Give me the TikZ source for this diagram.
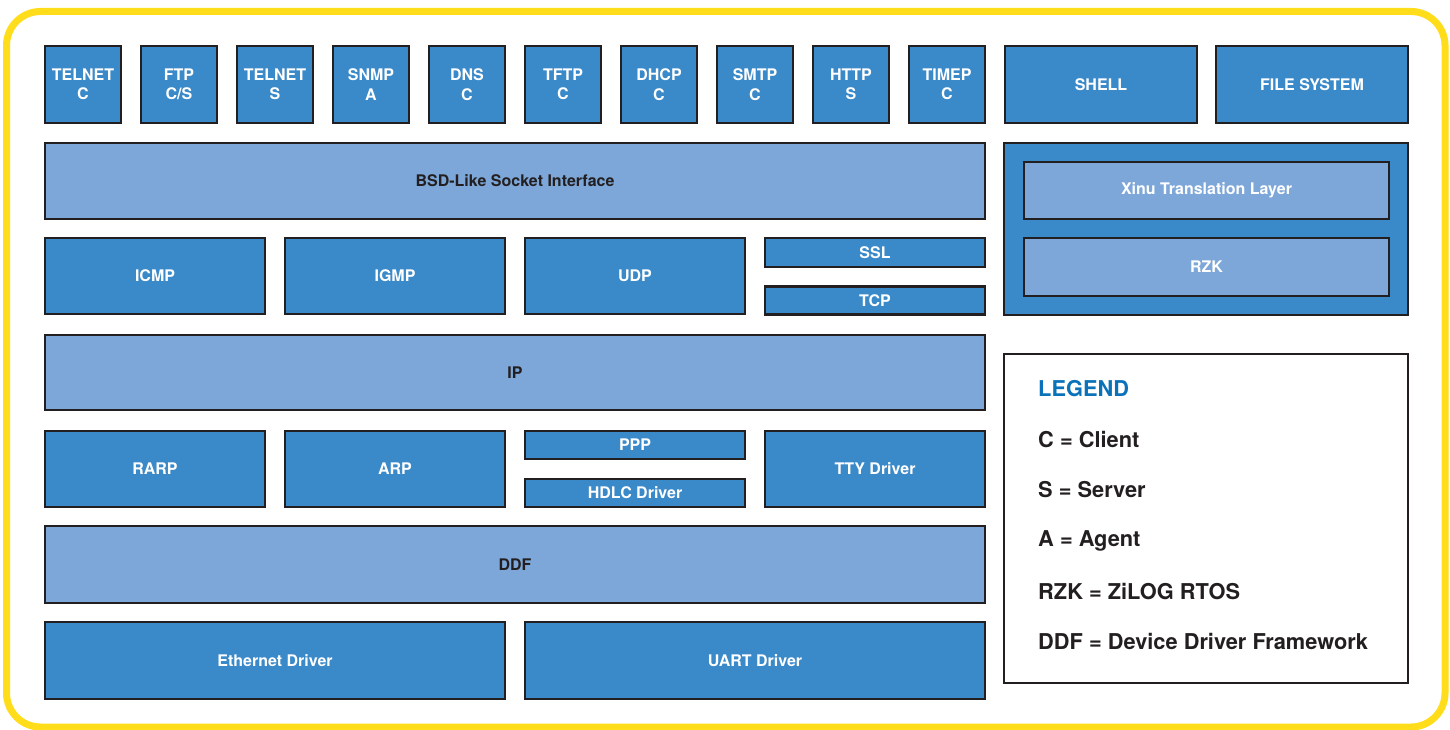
\documentclass[tikz,border=0pt]{standalone}
\usepackage{fontspec}
\setmainfont{TeX Gyre Heros}
\definecolor{ydark}{HTML}{3A89C9}
\definecolor{ylight}{HTML}{7CA7D8}
\definecolor{yedge}{HTML}{231F20}
\definecolor{yyellow}{HTML}{FFDD1A}
\definecolor{ylegend}{HTML}{0B72BA}
\begin{document}
\begin{tikzpicture}[x=1pt,y=-1pt,
  basebox/.style={draw=yedge, line width=2.4pt, inner sep=0pt, align=center,
    font=\fontsize{16}{19.5}\selectfont\bfseries},
  dbox/.style={basebox, fill=ydark, text=white},
  lbox/.style={basebox, fill=ylight, text=yedge},
  lwbox/.style={basebox, fill=ylight, text=white},
  legtext/.style={anchor=west, inner sep=0pt, text=yedge, font=\fontsize{21.8}{24}\selectfont\bfseries}]
\useasboundingbox (0,0) rectangle (1450,730);
\fill[white] (0,0) rectangle (1450,730);
\draw[yyellow, line width=7pt, rounded corners=34pt] (6.5,11.5) rectangle (1445,727);

% top row
\foreach \n/\t [count=\k from 0] in {telc/{TELNET\\C}, ftp/{FTP\\C/S}, tels/{TELNET\\S}, snmp/{SNMP\\A}, dns/{DNS\\C}, tftp/{TFTP\\C}, dhcp/{DHCP\\C}, smtp/{SMTP\\C}, http/{HTTP\\S}, timep/{TIMEP\\C}}
  \node[dbox, minimum width=76pt, minimum height=77pt] (\n) at (83+96*\k, 84.5) {\t};
\node[dbox, minimum width=192pt, minimum height=77pt] (shell) at (1101,84.5) {SHELL};
\node[dbox, minimum width=192pt, minimum height=77pt] (fs) at (1312,84.5) {FILE SYSTEM};

% socket layer
\node[lbox, minimum width=940pt, minimum height=76pt] (bsd) at (515,181) {BSD-Like Socket Interface};

% transport row
\node[dbox, minimum width=220pt, minimum height=76pt] (icmp) at (155,276) {ICMP};
\node[dbox, minimum width=220pt, minimum height=76pt] (igmp) at (395,276) {IGMP};
\node[dbox, minimum width=220pt, minimum height=76pt] (udp) at (635,276) {UDP};
\node[dbox, minimum width=220pt, minimum height=29pt] (ssl) at (875,252.5) {SSL};
\node[dbox, minimum width=220pt, minimum height=28pt] (tcp) at (875,300.5) {TCP};

% RZK block
\node[dbox, minimum width=404pt, minimum height=172pt] (rzkblock) at (1206,229) {};
\node[lwbox, minimum width=365pt, minimum height=57pt] (xinu) at (1206.5,190.5) {Xinu Translation Layer};
\node[lwbox, minimum width=365pt, minimum height=58pt] (rzk) at (1206.5,267) {RZK};

% IP
\node[lbox, minimum width=940pt, minimum height=75pt] (ip) at (515,372.5) {IP};

% link row
\node[dbox, minimum width=220pt, minimum height=76pt] (rarp) at (155,469) {RARP};
\node[dbox, minimum width=220pt, minimum height=76pt] (arp) at (395,469) {ARP};
\node[dbox, minimum width=220pt, minimum height=28pt] (ppp) at (635,445) {PPP};
\node[dbox, minimum width=220pt, minimum height=28pt] (hdlc) at (635,493) {HDLC Driver};
\node[dbox, minimum width=220pt, minimum height=76pt] (tty) at (875,469) {TTY Driver};

% DDF
\node[lbox, minimum width=940pt, minimum height=77pt] (ddf) at (515,564.5) {DDF};

% drivers
\node[dbox, minimum width=460pt, minimum height=77pt] (eth) at (275,660.5) {Ethernet Driver};
\node[dbox, minimum width=460pt, minimum height=77pt] (uart) at (755,660.5) {UART Driver};

% legend
\node[draw=yedge, line width=2.4pt, fill=white, minimum width=404pt, minimum height=329pt] (legend) at (1206,518.5) {};
\node[legtext, text=ylegend] (leghead) at (1038,388.5) {LEGEND};
\node[legtext] (legc) at (1038,439.5) {C = Client};
\node[legtext] (legs) at (1038,489.5) {S = Server};
\node[legtext] (lega) at (1038,540.5) {A = Agent};
\node[legtext] (legr) at (1038,591.5) {RZK = ZiLOG RTOS};
\node[legtext] (legd) at (1038,641.5) {DDF = Device Driver Framework};
\end{tikzpicture}
\end{document}
